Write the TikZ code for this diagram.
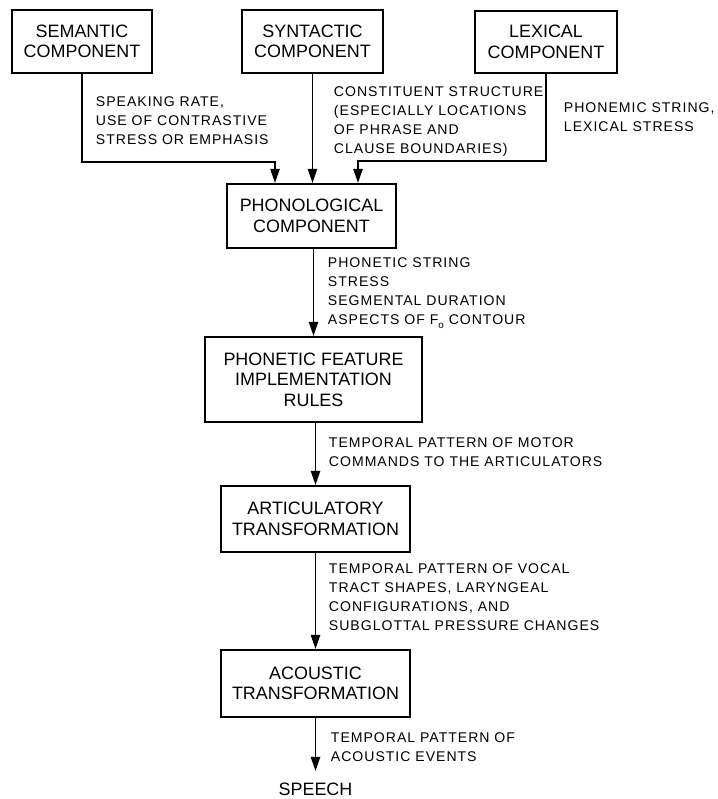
\documentclass[tikz,border=0pt]{standalone}
\usepackage{fontspec}
\setmainfont{Liberation Sans}
\newfontfamily\lblfont[LetterSpace=7]{Liberation Sans}
\usetikzlibrary{arrows.meta,calc}

\begin{document}
\begin{tikzpicture}[
		x=0.025cm, y=-0.025cm,
		line width=1.4pt,
		arrow/.style={-{Triangle[length=10pt,width=6.5pt]}},
		boxfont/.style={font=\fontsize{12.75}{14.6}\selectfont},
		block/.style={draw, boxfont, align=center},
		note/.style={anchor=north west, inner sep=0pt, align=left, font=\lblfont\fontsize{10}{13.5}\selectfont},
	]
		\useasboundingbox (0,0) rectangle (717,799);

		\node[block, minimum width=3.5cm, minimum height=1.575cm] (sem) at (82,41.5) {SEMANTIC\\COMPONENT};
		\node[block, minimum width=3.525cm, minimum height=1.575cm] (syn) at (312.5,41.5) {SYNTACTIC\\COMPONENT};
		\node[block, minimum width=3.55cm, minimum height=1.55cm] (lex) at (546,42) {LEXICAL\\COMPONENT};
		\node[block, minimum width=4.225cm, minimum height=1.6cm] (phon) at (311.5,216) {PHONOLOGICAL\\COMPONENT};
		\node[block, minimum width=5.425cm, minimum height=2.125cm] (feat) at (313.5,379.5) {PHONETIC FEATURE\\IMPLEMENTATION\\RULES};
		\node[block, minimum width=4.725cm, minimum height=1.65cm] (art) at (315.5,519) {ARTICULATORY\\TRANSFORMATION};
		\node[block, minimum width=4.725cm, minimum height=1.675cm] (aco) at (315.5,683.5) {ACOUSTIC\\TRANSFORMATION};
		\node[boxfont, anchor=north, inner ysep=8pt] (speech) at (315.5,771) {SPEECH};

		\node[note] (rate) at (95,96) {SPEAKING RATE,\\USE OF CONTRASTIVE\\STRESS OR EMPHASIS};
		\node[note] (constit) at (333,86) {CONSTITUENT STRUCTURE\\(ESPECIALLY LOCATIONS\\OF PHRASE AND\\CLAUSE BOUNDARIES)};
		\node[note] (phonemic) at (563,102) {PHONEMIC STRING,\\LEXICAL STRESS};
		\node[note] (phonetic) at (327,257) {PHONETIC STRING\\STRESS\\SEGMENTAL DURATION\\ASPECTS OF F\raisebox{-0.45ex}{\fontsize{7}{7}\selectfont o} CONTOUR};
		\node[note] (motor) at (328,437) {TEMPORAL PATTERN OF MOTOR\\COMMANDS TO THE ARTICULATORS};
		\node[note] (vocal) at (328,563) {TEMPORAL PATTERN OF VOCAL\\TRACT SHAPES, LARYNGEAL\\CONFIGURATIONS, AND\\SUBGLOTTAL PRESSURE CHANGES};
		\node[note] (events) at (330,732) {TEMPORAL PATTERN OF\\ACOUSTIC EVENTS};

		\draw[arrow] (sem.south) -- ++(0,88) -| ($(phon.north)+(-36.5,0)$);
		\draw[arrow] (syn.south) -- (syn.south |- phon.north);
		\draw[arrow] (lex.south) -- ++(0,87) -| ($(phon.north)+(46.5,0)$);
		\draw[arrow] (feat.north |- phon.south) -- (feat.north);
		\draw[arrow] (art.north |- feat.south) -- (art.north);
		\draw[arrow] (aco.north |- art.south) -- (aco.north);
		\draw[arrow] (aco.south) -- (speech.north);
	\end{tikzpicture}
\end{document}
